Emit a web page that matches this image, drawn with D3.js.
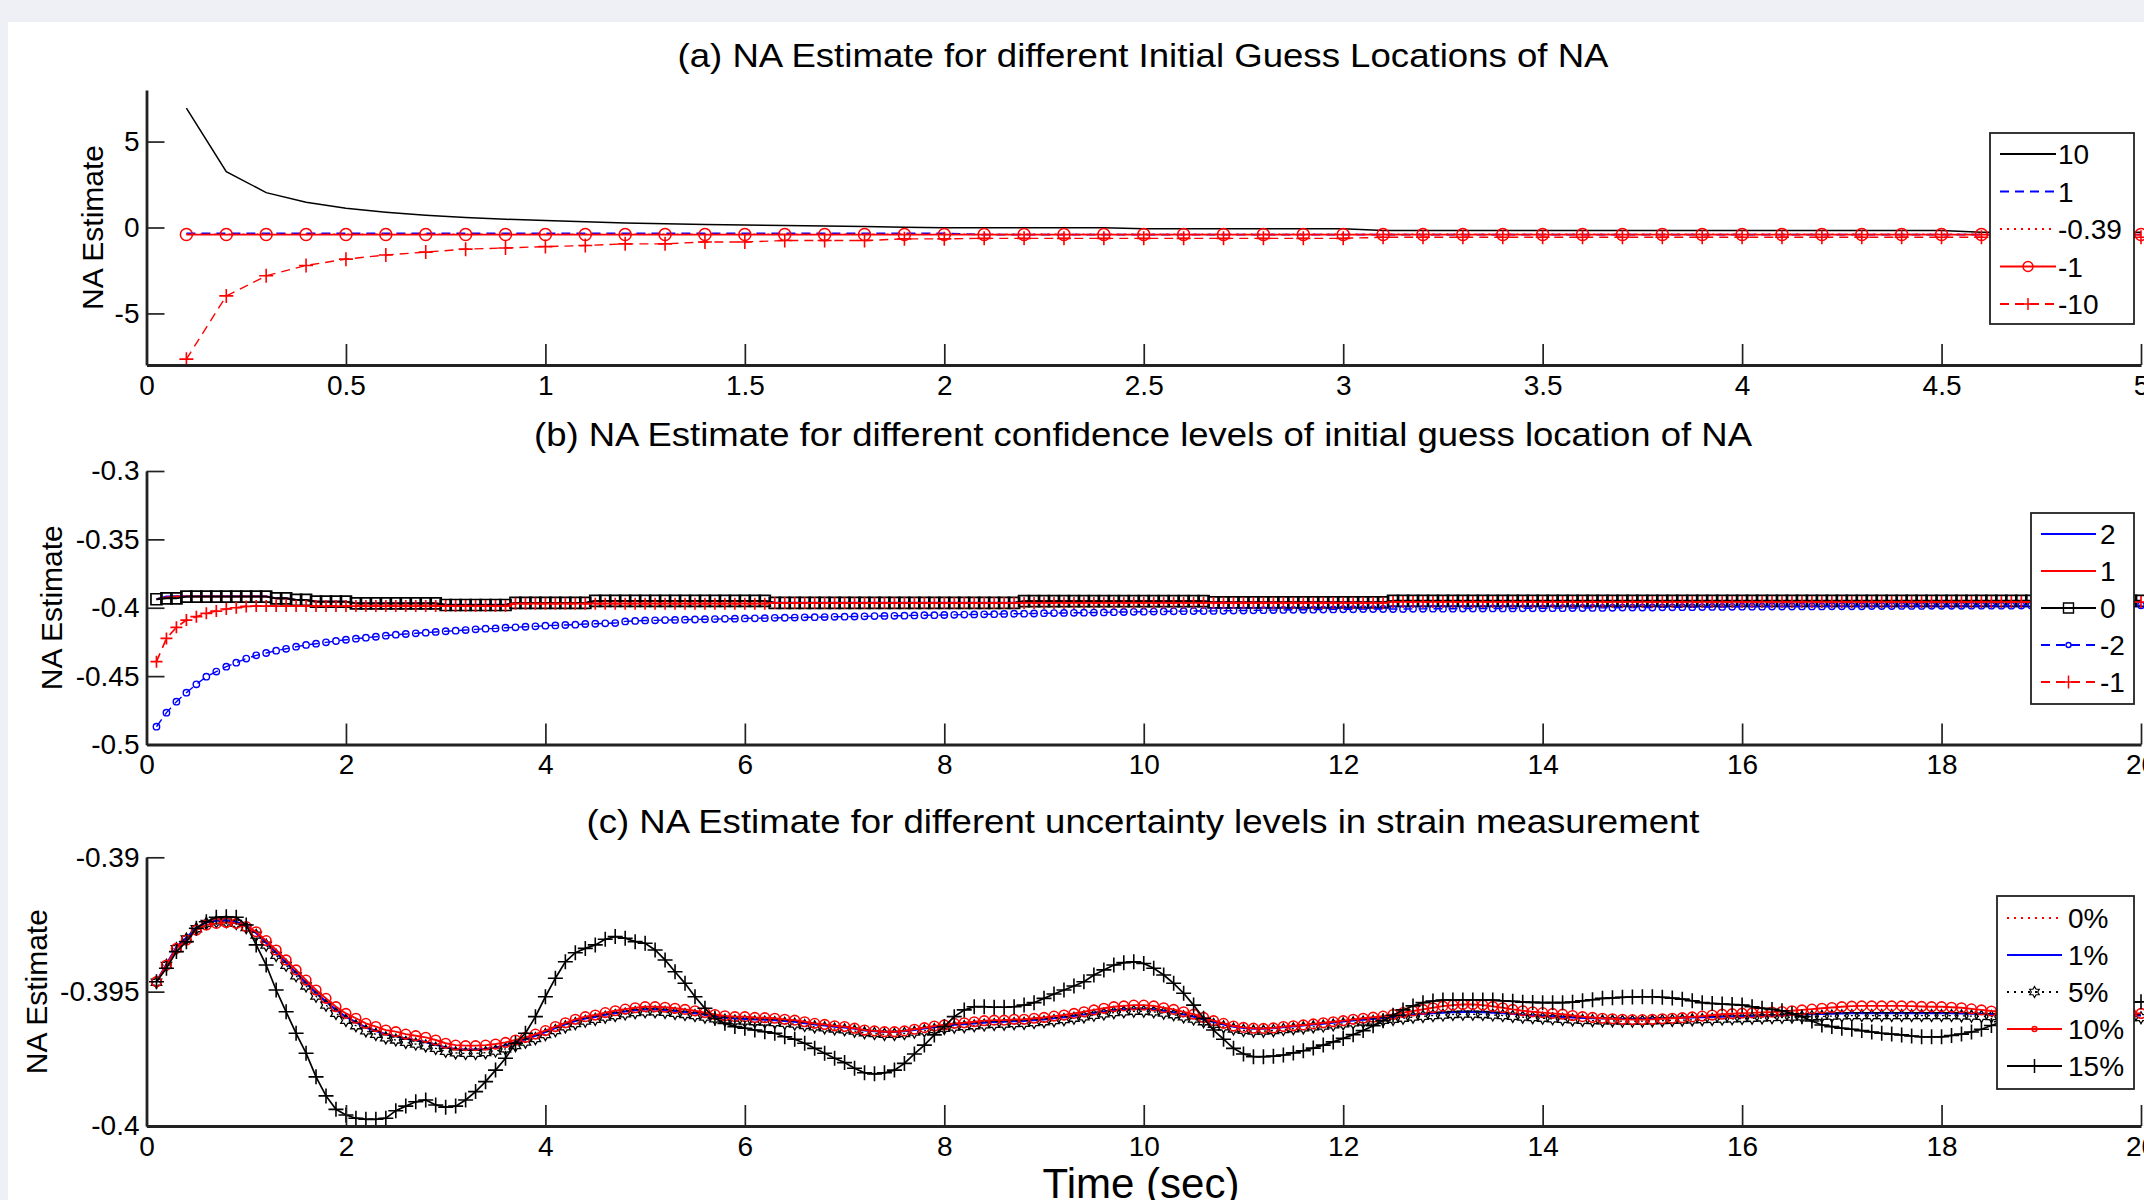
<!DOCTYPE html>
<html>
<head>
<meta charset="utf-8">
<script src="https://cdn.jsdelivr.net/npm/d3@7"></script>
<style>
  html, body { margin: 0; padding: 0; background: #eef0f5; }
  svg { display: block; }
  text { font-family: "Liberation Sans", Arial, Helvetica, sans-serif; fill: #000; }
</style>
</head>
<body>
<svg width="2144" height="1200"></svg>
<script>
/* NA estimate figure: three stacked panels, samples every 0.1 s starting at 0.1 */
var timeStep = 0.1;

// (a) initial guess locations, t = 0.1 .. 5.0
var guessLabels = ["10", "1", "-0.39", "-1", "-10"];
var guessTen = [6.94, 3.25, 2.03, 1.47, 1.12, 0.89, 0.71, 0.58, 0.48, 0.41,
    0.33, 0.26, 0.22, 0.18, 0.15, 0.12, 0.09, 0.06, 0.02, -0.01,
    -0.02, -0.02, -0.02, -0.02, -0.07, -0.07, -0.07, -0.07, -0.07, -0.07,
    -0.18, -0.18, -0.18, -0.18, -0.18, -0.18, -0.18, -0.18, -0.18, -0.18,
    -0.18, -0.18, -0.18, -0.18, -0.18, -0.28, -0.28, -0.28, -0.28, -0.28];
var guessOne = [-0.34, -0.34, -0.34, -0.34, -0.34, -0.34, -0.34, -0.34, -0.34, -0.34,
    -0.34, -0.34, -0.34, -0.34, -0.34, -0.34, -0.34, -0.34, -0.34, -0.34,
    -0.42, -0.42, -0.42, -0.42, -0.42, -0.42, -0.42, -0.42, -0.42, -0.42,
    -0.42, -0.42, -0.42, -0.42, -0.42, -0.42, -0.42, -0.42, -0.42, -0.42,
    -0.42, -0.42, -0.42, -0.42, -0.42, -0.42, -0.42, -0.42, -0.42, -0.42];
var guessMid = [-0.39, -0.39, -0.39, -0.39, -0.39, -0.39, -0.39, -0.39, -0.39, -0.39,
    -0.39, -0.39, -0.39, -0.39, -0.39, -0.39, -0.39, -0.39, -0.39, -0.39,
    -0.39, -0.39, -0.39, -0.39, -0.39, -0.39, -0.39, -0.39, -0.39, -0.39,
    -0.39, -0.39, -0.39, -0.39, -0.39, -0.39, -0.39, -0.39, -0.39, -0.39,
    -0.39, -0.39, -0.39, -0.39, -0.39, -0.39, -0.39, -0.39, -0.39, -0.39];
var guessMinusOne = [-0.41, -0.41, -0.41, -0.41, -0.41, -0.41, -0.41, -0.41, -0.41, -0.41,
    -0.41, -0.41, -0.41, -0.41, -0.41, -0.41, -0.41, -0.41, -0.41, -0.41,
    -0.41, -0.41, -0.41, -0.41, -0.41, -0.41, -0.41, -0.41, -0.41, -0.41,
    -0.41, -0.41, -0.41, -0.41, -0.41, -0.41, -0.41, -0.41, -0.41, -0.41,
    -0.41, -0.41, -0.41, -0.41, -0.41, -0.41, -0.41, -0.41, -0.41, -0.41];
var guessMinusTen = [-7.66, -3.98, -2.81, -2.21, -1.84, -1.60, -1.43, -1.26, -1.19, -1.11,
    -1.05, -0.95, -0.95, -0.84, -0.84, -0.76, -0.76, -0.76, -0.66, -0.66,
    -0.63, -0.63, -0.63, -0.63, -0.63, -0.63, -0.63, -0.63, -0.63, -0.63,
    -0.57, -0.57, -0.57, -0.57, -0.57, -0.57, -0.57, -0.57, -0.57, -0.57,
    -0.57, -0.57, -0.57, -0.57, -0.57, -0.57, -0.57, -0.57, -0.57, -0.57];
var guessXTicks = [0, 0.5, 1, 1.5, 2, 2.5, 3, 3.5, 4, 4.5, 5];
var guessXTickLabels = ["0", "0.5", "1", "1.5", "2", "2.5", "3", "3.5", "4", "4.5", "5"];
var guessYTicks = [-5, 0, 5];
var guessYTickLabels = ["-5", "0", "5"];

// (b) confidence levels, t = 0.1 .. 20.0
var confLabels = ["2", "1", "0", "-2", "-1"];
var confTwo = [-0.3938, -0.3918, -0.3916, -0.3916, -0.3916, -0.3916, -0.3916, -0.3916, -0.3916, -0.3916,
    -0.3916, -0.3916, -0.3931, -0.3931, -0.3943, -0.3943, -0.3955, -0.3955, -0.3955, -0.3955,
    -0.3966, -0.3966, -0.3966, -0.3966, -0.3966, -0.3966, -0.3966, -0.3966, -0.3966, -0.3978,
    -0.3978, -0.3978, -0.3978, -0.3978, -0.3978, -0.3978, -0.3964, -0.3964, -0.3964, -0.3964,
    -0.3964, -0.3964, -0.3964, -0.3964, -0.3951, -0.3951, -0.3951, -0.3951, -0.3951, -0.3951,
    -0.3951, -0.3951, -0.3951, -0.3951, -0.3951, -0.3951, -0.3951, -0.3951, -0.3951, -0.3951,
    -0.3951, -0.3951, -0.3963, -0.3963, -0.3963, -0.3963, -0.3963, -0.3963, -0.3963, -0.3963,
    -0.3963, -0.3963, -0.3963, -0.3963, -0.3963, -0.3963, -0.3963, -0.3963, -0.3963, -0.3963,
    -0.3963, -0.3963, -0.3963, -0.3963, -0.3963, -0.3963, -0.3963, -0.3953, -0.3953, -0.3953,
    -0.3953, -0.3953, -0.3953, -0.3953, -0.3953, -0.3953, -0.3953, -0.3953, -0.3953, -0.3953,
    -0.3953, -0.3953, -0.3953, -0.3953, -0.3953, -0.3953, -0.3960, -0.3960, -0.3960, -0.3960,
    -0.3960, -0.3960, -0.3960, -0.3960, -0.3960, -0.3960, -0.3960, -0.3960, -0.3960, -0.3960,
    -0.3960, -0.3960, -0.3960, -0.3960, -0.3950, -0.3950, -0.3950, -0.3950, -0.3950, -0.3950,
    -0.3950, -0.3950, -0.3950, -0.3950, -0.3950, -0.3950, -0.3950, -0.3950, -0.3950, -0.3950,
    -0.3950, -0.3950, -0.3950, -0.3950, -0.3950, -0.3950, -0.3950, -0.3950, -0.3950, -0.3950,
    -0.3950, -0.3950, -0.3950, -0.3950, -0.3950, -0.3950, -0.3950, -0.3950, -0.3950, -0.3950,
    -0.3950, -0.3950, -0.3950, -0.3950, -0.3950, -0.3950, -0.3950, -0.3950, -0.3950, -0.3950,
    -0.3950, -0.3950, -0.3950, -0.3950, -0.3950, -0.3950, -0.3950, -0.3950, -0.3950, -0.3950,
    -0.3950, -0.3950, -0.3950, -0.3950, -0.3950, -0.3950, -0.3950, -0.3950, -0.3950, -0.3950,
    -0.3950, -0.3950, -0.3950, -0.3950, -0.3950, -0.3950, -0.3950, -0.3950, -0.3950, -0.3950];
var confOne = [-0.3938, -0.3925, -0.3918, -0.3918, -0.3918, -0.3918, -0.3918, -0.3918, -0.3918, -0.3918,
    -0.3918, -0.3918, -0.3932, -0.3932, -0.3944, -0.3944, -0.3956, -0.3956, -0.3956, -0.3956,
    -0.3969, -0.3969, -0.3969, -0.3969, -0.3969, -0.3969, -0.3969, -0.3969, -0.3969, -0.3981,
    -0.3981, -0.3981, -0.3981, -0.3981, -0.3981, -0.3981, -0.3966, -0.3966, -0.3966, -0.3966,
    -0.3966, -0.3966, -0.3966, -0.3966, -0.3952, -0.3952, -0.3952, -0.3952, -0.3952, -0.3952,
    -0.3952, -0.3952, -0.3952, -0.3952, -0.3952, -0.3952, -0.3952, -0.3952, -0.3952, -0.3952,
    -0.3952, -0.3952, -0.3966, -0.3966, -0.3966, -0.3966, -0.3966, -0.3966, -0.3966, -0.3966,
    -0.3966, -0.3966, -0.3966, -0.3966, -0.3966, -0.3966, -0.3966, -0.3966, -0.3966, -0.3966,
    -0.3966, -0.3966, -0.3966, -0.3966, -0.3966, -0.3966, -0.3966, -0.3954, -0.3954, -0.3954,
    -0.3954, -0.3954, -0.3954, -0.3954, -0.3954, -0.3954, -0.3954, -0.3954, -0.3954, -0.3954,
    -0.3954, -0.3954, -0.3954, -0.3954, -0.3954, -0.3954, -0.3962, -0.3962, -0.3962, -0.3962,
    -0.3962, -0.3962, -0.3962, -0.3962, -0.3962, -0.3962, -0.3962, -0.3962, -0.3962, -0.3962,
    -0.3962, -0.3962, -0.3962, -0.3962, -0.3951, -0.3951, -0.3951, -0.3951, -0.3951, -0.3951,
    -0.3951, -0.3951, -0.3951, -0.3951, -0.3951, -0.3951, -0.3951, -0.3951, -0.3951, -0.3951,
    -0.3951, -0.3951, -0.3951, -0.3951, -0.3951, -0.3951, -0.3951, -0.3951, -0.3951, -0.3951,
    -0.3951, -0.3951, -0.3951, -0.3951, -0.3951, -0.3951, -0.3951, -0.3951, -0.3951, -0.3951,
    -0.3951, -0.3951, -0.3951, -0.3951, -0.3951, -0.3951, -0.3951, -0.3951, -0.3951, -0.3951,
    -0.3951, -0.3951, -0.3951, -0.3951, -0.3951, -0.3951, -0.3951, -0.3951, -0.3951, -0.3951,
    -0.3951, -0.3951, -0.3951, -0.3951, -0.3951, -0.3951, -0.3951, -0.3951, -0.3951, -0.3951,
    -0.3951, -0.3951, -0.3951, -0.3951, -0.3951, -0.3951, -0.3951, -0.3951, -0.3951, -0.3951];
var confZero = [-0.3938, -0.3931, -0.3931, -0.3919, -0.3919, -0.3919, -0.3919, -0.3919, -0.3919, -0.3919,
    -0.3919, -0.3919, -0.3931, -0.3931, -0.3943, -0.3943, -0.3955, -0.3955, -0.3955, -0.3955,
    -0.3968, -0.3968, -0.3968, -0.3968, -0.3968, -0.3968, -0.3968, -0.3968, -0.3968, -0.3980,
    -0.3980, -0.3980, -0.3980, -0.3980, -0.3980, -0.3980, -0.3965, -0.3965, -0.3965, -0.3965,
    -0.3965, -0.3965, -0.3965, -0.3965, -0.3950, -0.3950, -0.3950, -0.3950, -0.3950, -0.3950,
    -0.3950, -0.3950, -0.3950, -0.3950, -0.3950, -0.3950, -0.3950, -0.3950, -0.3950, -0.3950,
    -0.3950, -0.3950, -0.3965, -0.3965, -0.3965, -0.3965, -0.3965, -0.3965, -0.3965, -0.3965,
    -0.3965, -0.3965, -0.3965, -0.3965, -0.3965, -0.3965, -0.3965, -0.3965, -0.3965, -0.3965,
    -0.3965, -0.3965, -0.3965, -0.3965, -0.3965, -0.3965, -0.3965, -0.3952, -0.3952, -0.3952,
    -0.3952, -0.3952, -0.3952, -0.3952, -0.3952, -0.3952, -0.3952, -0.3952, -0.3952, -0.3952,
    -0.3952, -0.3952, -0.3952, -0.3952, -0.3952, -0.3952, -0.3961, -0.3961, -0.3961, -0.3961,
    -0.3961, -0.3961, -0.3961, -0.3961, -0.3961, -0.3961, -0.3961, -0.3961, -0.3961, -0.3961,
    -0.3961, -0.3961, -0.3961, -0.3961, -0.3949, -0.3949, -0.3949, -0.3949, -0.3949, -0.3949,
    -0.3949, -0.3949, -0.3949, -0.3949, -0.3949, -0.3949, -0.3949, -0.3949, -0.3949, -0.3949,
    -0.3949, -0.3949, -0.3949, -0.3949, -0.3949, -0.3949, -0.3949, -0.3949, -0.3949, -0.3949,
    -0.3949, -0.3949, -0.3949, -0.3949, -0.3949, -0.3949, -0.3949, -0.3949, -0.3949, -0.3949,
    -0.3949, -0.3949, -0.3949, -0.3949, -0.3949, -0.3949, -0.3949, -0.3949, -0.3949, -0.3949,
    -0.3949, -0.3949, -0.3949, -0.3949, -0.3949, -0.3949, -0.3949, -0.3949, -0.3949, -0.3949,
    -0.3949, -0.3949, -0.3949, -0.3949, -0.3949, -0.3949, -0.3949, -0.3949, -0.3949, -0.3949,
    -0.3949, -0.3949, -0.3949, -0.3949, -0.3949, -0.3949, -0.3949, -0.3949, -0.3949, -0.3949];
var confMinusTwo = [-0.4870, -0.4767, -0.4687, -0.4621, -0.4560, -0.4504, -0.4467, -0.4431, -0.4402, -0.4372,
    -0.4348, -0.4331, -0.4314, -0.4300, -0.4285, -0.4272, -0.4263, -0.4253, -0.4243, -0.4234,
    -0.4226, -0.4219, -0.4212, -0.4204, -0.4197, -0.4192, -0.4187, -0.4182, -0.4177, -0.4172,
    -0.4168, -0.4163, -0.4158, -0.4153, -0.4151, -0.4146, -0.4143, -0.4139, -0.4136, -0.4131,
    -0.4129, -0.4126, -0.4124, -0.4119, -0.4117, -0.4114, -0.4112, -0.4100, -0.4096, -0.4093,
    -0.4092, -0.4090, -0.4089, -0.4087, -0.4086, -0.4084, -0.4083, -0.4081, -0.4080, -0.4078,
    -0.4077, -0.4076, -0.4074, -0.4073, -0.4072, -0.4070, -0.4069, -0.4068, -0.4066, -0.4065,
    -0.4064, -0.4063, -0.4061, -0.4060, -0.4059, -0.4058, -0.4056, -0.4055, -0.4054, -0.4053,
    -0.4052, -0.4050, -0.4049, -0.4048, -0.4047, -0.4045, -0.4044, -0.4043, -0.4042, -0.4040,
    -0.4039, -0.4038, -0.4037, -0.4036, -0.4035, -0.4034, -0.4032, -0.4031, -0.4030, -0.4029,
    -0.4028, -0.4027, -0.4026, -0.4025, -0.4024, -0.4024, -0.4023, -0.4022, -0.4021, -0.4020,
    -0.4019, -0.4018, -0.4017, -0.4016, -0.4015, -0.4015, -0.4014, -0.4013, -0.4012, -0.4011,
    -0.4011, -0.4010, -0.4010, -0.4009, -0.4009, -0.4009, -0.4008, -0.4008, -0.4007, -0.4007,
    -0.4007, -0.4006, -0.4006, -0.4006, -0.4005, -0.4005, -0.4005, -0.4004, -0.4004, -0.4004,
    -0.4003, -0.4003, -0.4002, -0.4002, -0.4001, -0.4001, -0.4000, -0.3999, -0.3999, -0.3998,
    -0.3998, -0.3997, -0.3997, -0.3996, -0.3996, -0.3995, -0.3994, -0.3994, -0.3993, -0.3992,
    -0.3992, -0.3992, -0.3991, -0.3991, -0.3991, -0.3990, -0.3990, -0.3990, -0.3989, -0.3989,
    -0.3989, -0.3989, -0.3988, -0.3988, -0.3988, -0.3987, -0.3987, -0.3987, -0.3986, -0.3986,
    -0.3986, -0.3986, -0.3985, -0.3985, -0.3985, -0.3985, -0.3985, -0.3984, -0.3984, -0.3984,
    -0.3984, -0.3983, -0.3983, -0.3983, -0.3983, -0.3983, -0.3982, -0.3982, -0.3982, -0.3982];
var confMinusOne = [-0.4394, -0.4224, -0.4143, -0.4090, -0.4065, -0.4041, -0.4024, -0.4009, -0.4000, -0.3990,
    -0.3988, -0.3988, -0.3988, -0.3988, -0.3988, -0.3988, -0.3988, -0.3988, -0.3988, -0.3988,
    -0.3988, -0.3988, -0.3988, -0.3988, -0.3988, -0.3988, -0.3988, -0.3988, -0.3988, -0.3988,
    -0.3988, -0.3988, -0.3988, -0.3988, -0.3988, -0.3988, -0.3970, -0.3970, -0.3970, -0.3970,
    -0.3970, -0.3970, -0.3970, -0.3970, -0.3970, -0.3970, -0.3970, -0.3970, -0.3970, -0.3970,
    -0.3970, -0.3970, -0.3970, -0.3970, -0.3970, -0.3970, -0.3970, -0.3970, -0.3970, -0.3970,
    -0.3970, -0.3970, -0.3965, -0.3965, -0.3965, -0.3965, -0.3965, -0.3965, -0.3965, -0.3965,
    -0.3965, -0.3965, -0.3965, -0.3965, -0.3965, -0.3965, -0.3965, -0.3965, -0.3965, -0.3965,
    -0.3965, -0.3965, -0.3965, -0.3965, -0.3965, -0.3965, -0.3965, -0.3965, -0.3965, -0.3965,
    -0.3965, -0.3965, -0.3965, -0.3965, -0.3965, -0.3965, -0.3965, -0.3965, -0.3965, -0.3965,
    -0.3965, -0.3965, -0.3965, -0.3965, -0.3965, -0.3965, -0.3965, -0.3965, -0.3965, -0.3965,
    -0.3965, -0.3965, -0.3965, -0.3965, -0.3965, -0.3965, -0.3965, -0.3965, -0.3965, -0.3965,
    -0.3965, -0.3965, -0.3965, -0.3965, -0.3958, -0.3958, -0.3958, -0.3958, -0.3958, -0.3958,
    -0.3958, -0.3958, -0.3958, -0.3958, -0.3958, -0.3958, -0.3958, -0.3958, -0.3958, -0.3958,
    -0.3958, -0.3958, -0.3958, -0.3958, -0.3958, -0.3958, -0.3958, -0.3958, -0.3958, -0.3958,
    -0.3958, -0.3958, -0.3958, -0.3958, -0.3958, -0.3958, -0.3958, -0.3958, -0.3958, -0.3958,
    -0.3958, -0.3958, -0.3958, -0.3958, -0.3958, -0.3958, -0.3958, -0.3958, -0.3958, -0.3958,
    -0.3958, -0.3958, -0.3958, -0.3958, -0.3958, -0.3958, -0.3958, -0.3958, -0.3958, -0.3958,
    -0.3958, -0.3958, -0.3958, -0.3958, -0.3958, -0.3958, -0.3958, -0.3958, -0.3958, -0.3958,
    -0.3958, -0.3958, -0.3958, -0.3958, -0.3958, -0.3958, -0.3958, -0.3958, -0.3958, -0.3958];
var longXTicks = [0, 2, 4, 6, 8, 10, 12, 14, 16, 18, 20];
var longXTickLabels = ["0", "2", "4", "6", "8", "10", "12", "14", "16", "18", "20"];
var confYTicks = [-0.5, -0.45, -0.4, -0.35, -0.3];
var confYTickLabels = ["-0.5", "-0.45", "-0.4", "-0.35", "-0.3"];

// (c) uncertainty in strain measurement, t = 0.1 .. 20.0
var noiseLabels = ["0%", "1%", "5%", "10%", "15%"];
var noise0 = [-0.39463, -0.39398, -0.39335, -0.39300, -0.39262, -0.39242, -0.39236, -0.39235, -0.39240, -0.39255,
    -0.39282, -0.39318, -0.39355, -0.39392, -0.39430, -0.39468, -0.39505, -0.39537, -0.39568, -0.39594,
    -0.39614, -0.39633, -0.39646, -0.39659, -0.39666, -0.39675, -0.39681, -0.39688, -0.39697, -0.39708,
    -0.39714, -0.39716, -0.39716, -0.39713, -0.39708, -0.39700, -0.39689, -0.39677, -0.39664, -0.39650,
    -0.39635, -0.39621, -0.39609, -0.39600, -0.39594, -0.39586, -0.39580, -0.39574, -0.39569, -0.39566,
    -0.39566, -0.39568, -0.39572, -0.39576, -0.39580, -0.39586, -0.39592, -0.39597, -0.39600, -0.39601,
    -0.39603, -0.39604, -0.39606, -0.39609, -0.39612, -0.39617, -0.39622, -0.39626, -0.39630, -0.39633,
    -0.39638, -0.39644, -0.39647, -0.39650, -0.39650, -0.39647, -0.39642, -0.39637, -0.39632, -0.39628,
    -0.39623, -0.39621, -0.39618, -0.39615, -0.39613, -0.39612, -0.39610, -0.39609, -0.39606, -0.39603,
    -0.39599, -0.39595, -0.39590, -0.39585, -0.39579, -0.39574, -0.39569, -0.39566, -0.39564, -0.39564,
    -0.39566, -0.39571, -0.39577, -0.39585, -0.39593, -0.39603, -0.39613, -0.39622, -0.39630, -0.39635,
    -0.39638, -0.39638, -0.39636, -0.39632, -0.39629, -0.39626, -0.39622, -0.39619, -0.39615, -0.39611,
    -0.39607, -0.39604, -0.39601, -0.39598, -0.39594, -0.39590, -0.39586, -0.39583, -0.39580, -0.39578,
    -0.39576, -0.39575, -0.39575, -0.39576, -0.39578, -0.39580, -0.39583, -0.39586, -0.39588, -0.39590,
    -0.39592, -0.39594, -0.39596, -0.39598, -0.39599, -0.39600, -0.39600, -0.39601, -0.39601, -0.39601,
    -0.39600, -0.39599, -0.39598, -0.39597, -0.39596, -0.39595, -0.39594, -0.39593, -0.39592, -0.39591,
    -0.39590, -0.39589, -0.39588, -0.39587, -0.39586, -0.39585, -0.39584, -0.39583, -0.39582, -0.39581,
    -0.39580, -0.39580, -0.39580, -0.39580, -0.39580, -0.39580, -0.39580, -0.39580, -0.39580, -0.39580,
    -0.39580, -0.39581, -0.39582, -0.39583, -0.39584, -0.39585, -0.39586, -0.39587, -0.39588, -0.39588,
    -0.39588, -0.39588, -0.39588, -0.39588, -0.39588, -0.39588, -0.39588, -0.39588, -0.39588, -0.39588];
var noise1 = [-0.39463, -0.39398, -0.39335, -0.39300, -0.39262, -0.39242, -0.39236, -0.39235, -0.39240, -0.39255,
    -0.39282, -0.39318, -0.39355, -0.39392, -0.39430, -0.39468, -0.39505, -0.39537, -0.39568, -0.39594,
    -0.39614, -0.39633, -0.39646, -0.39659, -0.39666, -0.39675, -0.39681, -0.39688, -0.39697, -0.39708,
    -0.39714, -0.39716, -0.39716, -0.39713, -0.39708, -0.39700, -0.39689, -0.39677, -0.39664, -0.39650,
    -0.39635, -0.39621, -0.39609, -0.39600, -0.39594, -0.39586, -0.39580, -0.39574, -0.39569, -0.39566,
    -0.39566, -0.39568, -0.39572, -0.39576, -0.39580, -0.39586, -0.39592, -0.39597, -0.39600, -0.39601,
    -0.39603, -0.39604, -0.39606, -0.39609, -0.39612, -0.39617, -0.39622, -0.39626, -0.39630, -0.39633,
    -0.39638, -0.39644, -0.39647, -0.39650, -0.39650, -0.39647, -0.39642, -0.39637, -0.39632, -0.39628,
    -0.39623, -0.39621, -0.39618, -0.39615, -0.39613, -0.39612, -0.39610, -0.39609, -0.39606, -0.39603,
    -0.39599, -0.39595, -0.39590, -0.39585, -0.39579, -0.39574, -0.39569, -0.39566, -0.39564, -0.39564,
    -0.39566, -0.39571, -0.39577, -0.39585, -0.39593, -0.39603, -0.39613, -0.39622, -0.39630, -0.39635,
    -0.39638, -0.39638, -0.39636, -0.39632, -0.39629, -0.39626, -0.39622, -0.39619, -0.39615, -0.39611,
    -0.39607, -0.39604, -0.39601, -0.39598, -0.39594, -0.39590, -0.39586, -0.39583, -0.39580, -0.39578,
    -0.39576, -0.39575, -0.39575, -0.39576, -0.39578, -0.39580, -0.39583, -0.39586, -0.39588, -0.39590,
    -0.39592, -0.39594, -0.39596, -0.39598, -0.39599, -0.39600, -0.39600, -0.39601, -0.39601, -0.39601,
    -0.39600, -0.39599, -0.39598, -0.39597, -0.39596, -0.39595, -0.39594, -0.39593, -0.39592, -0.39591,
    -0.39590, -0.39589, -0.39588, -0.39587, -0.39586, -0.39585, -0.39584, -0.39583, -0.39582, -0.39581,
    -0.39580, -0.39580, -0.39580, -0.39580, -0.39580, -0.39580, -0.39580, -0.39580, -0.39580, -0.39580,
    -0.39580, -0.39581, -0.39582, -0.39583, -0.39584, -0.39585, -0.39586, -0.39587, -0.39588, -0.39588,
    -0.39588, -0.39588, -0.39588, -0.39588, -0.39588, -0.39588, -0.39588, -0.39588, -0.39588, -0.39588];
var noise5 = [-0.39465, -0.39402, -0.39340, -0.39304, -0.39266, -0.39246, -0.39240, -0.39240, -0.39246, -0.39262,
    -0.39290, -0.39327, -0.39365, -0.39402, -0.39441, -0.39479, -0.39517, -0.39550, -0.39581, -0.39607,
    -0.39627, -0.39646, -0.39659, -0.39672, -0.39680, -0.39689, -0.39695, -0.39702, -0.39711, -0.39722,
    -0.39728, -0.39730, -0.39730, -0.39727, -0.39721, -0.39713, -0.39701, -0.39688, -0.39675, -0.39660,
    -0.39645, -0.39631, -0.39619, -0.39610, -0.39603, -0.39595, -0.39589, -0.39583, -0.39578, -0.39575,
    -0.39575, -0.39577, -0.39581, -0.39585, -0.39589, -0.39595, -0.39601, -0.39606, -0.39609, -0.39610,
    -0.39612, -0.39613, -0.39615, -0.39618, -0.39621, -0.39626, -0.39631, -0.39635, -0.39639, -0.39642,
    -0.39647, -0.39653, -0.39656, -0.39659, -0.39659, -0.39656, -0.39651, -0.39646, -0.39641, -0.39637,
    -0.39632, -0.39630, -0.39627, -0.39624, -0.39622, -0.39621, -0.39619, -0.39618, -0.39615, -0.39612,
    -0.39608, -0.39604, -0.39599, -0.39594, -0.39588, -0.39583, -0.39578, -0.39575, -0.39573, -0.39573,
    -0.39575, -0.39580, -0.39586, -0.39594, -0.39602, -0.39612, -0.39622, -0.39631, -0.39639, -0.39644,
    -0.39647, -0.39647, -0.39645, -0.39641, -0.39638, -0.39635, -0.39631, -0.39628, -0.39624, -0.39620,
    -0.39616, -0.39613, -0.39610, -0.39607, -0.39603, -0.39599, -0.39595, -0.39592, -0.39589, -0.39587,
    -0.39585, -0.39584, -0.39584, -0.39585, -0.39587, -0.39589, -0.39592, -0.39595, -0.39597, -0.39599,
    -0.39601, -0.39603, -0.39605, -0.39607, -0.39608, -0.39609, -0.39609, -0.39610, -0.39610, -0.39610,
    -0.39609, -0.39608, -0.39607, -0.39606, -0.39605, -0.39604, -0.39603, -0.39602, -0.39601, -0.39600,
    -0.39599, -0.39598, -0.39597, -0.39596, -0.39595, -0.39594, -0.39593, -0.39592, -0.39591, -0.39590,
    -0.39589, -0.39589, -0.39589, -0.39589, -0.39589, -0.39589, -0.39589, -0.39589, -0.39589, -0.39589,
    -0.39589, -0.39590, -0.39591, -0.39592, -0.39593, -0.39594, -0.39595, -0.39596, -0.39597, -0.39597,
    -0.39597, -0.39597, -0.39597, -0.39597, -0.39597, -0.39597, -0.39597, -0.39597, -0.39597, -0.39597];
var noise10 = [-0.39463, -0.39401, -0.39339, -0.39308, -0.39271, -0.39252, -0.39246, -0.39243, -0.39246, -0.39258,
    -0.39277, -0.39310, -0.39345, -0.39382, -0.39419, -0.39457, -0.39494, -0.39525, -0.39556, -0.39581,
    -0.39599, -0.39618, -0.39630, -0.39643, -0.39649, -0.39658, -0.39664, -0.39670, -0.39680, -0.39692,
    -0.39699, -0.39701, -0.39701, -0.39699, -0.39695, -0.39689, -0.39680, -0.39670, -0.39658, -0.39645,
    -0.39630, -0.39616, -0.39603, -0.39593, -0.39587, -0.39578, -0.39571, -0.39565, -0.39560, -0.39556,
    -0.39556, -0.39558, -0.39562, -0.39566, -0.39571, -0.39578, -0.39585, -0.39590, -0.39593, -0.39593,
    -0.39596, -0.39597, -0.39599, -0.39603, -0.39606, -0.39612, -0.39618, -0.39622, -0.39627, -0.39630,
    -0.39636, -0.39643, -0.39646, -0.39649, -0.39649, -0.39646, -0.39640, -0.39634, -0.39628, -0.39624,
    -0.39618, -0.39616, -0.39612, -0.39608, -0.39606, -0.39606, -0.39603, -0.39603, -0.39599, -0.39596,
    -0.39591, -0.39587, -0.39581, -0.39575, -0.39568, -0.39562, -0.39556, -0.39553, -0.39550, -0.39550,
    -0.39553, -0.39560, -0.39566, -0.39575, -0.39584, -0.39596, -0.39608, -0.39618, -0.39628, -0.39633,
    -0.39636, -0.39637, -0.39635, -0.39630, -0.39627, -0.39624, -0.39620, -0.39616, -0.39612, -0.39608,
    -0.39603, -0.39599, -0.39595, -0.39591, -0.39585, -0.39578, -0.39572, -0.39566, -0.39560, -0.39554,
    -0.39550, -0.39548, -0.39548, -0.39550, -0.39555, -0.39560, -0.39566, -0.39571, -0.39575, -0.39578,
    -0.39581, -0.39584, -0.39589, -0.39593, -0.39596, -0.39599, -0.39601, -0.39603, -0.39604, -0.39604,
    -0.39603, -0.39601, -0.39599, -0.39597, -0.39594, -0.39591, -0.39587, -0.39584, -0.39582, -0.39580,
    -0.39579, -0.39577, -0.39576, -0.39574, -0.39571, -0.39568, -0.39565, -0.39562, -0.39559, -0.39556,
    -0.39554, -0.39553, -0.39553, -0.39553, -0.39553, -0.39553, -0.39554, -0.39555, -0.39556, -0.39556,
    -0.39558, -0.39560, -0.39564, -0.39568, -0.39572, -0.39575, -0.39578, -0.39580, -0.39581, -0.39582,
    -0.39582, -0.39582, -0.39581, -0.39581, -0.39580, -0.39580, -0.39580, -0.39581, -0.39581, -0.39581];
var noise15 = [-0.39463, -0.39413, -0.39351, -0.39314, -0.39264, -0.39240, -0.39223, -0.39221, -0.39223, -0.39252,
    -0.39326, -0.39401, -0.39494, -0.39575, -0.39655, -0.39729, -0.39817, -0.39888, -0.39938, -0.39959,
    -0.39971, -0.39975, -0.39975, -0.39971, -0.39943, -0.39926, -0.39910, -0.39903, -0.39922, -0.39930,
    -0.39926, -0.39903, -0.39872, -0.39835, -0.39792, -0.39748, -0.39692, -0.39655, -0.39593, -0.39519,
    -0.39450, -0.39389, -0.39355, -0.39339, -0.39326, -0.39305, -0.39295, -0.39301, -0.39314, -0.39320,
    -0.39345, -0.39382, -0.39426, -0.39469, -0.39519, -0.39562, -0.39599, -0.39618, -0.39630, -0.39636,
    -0.39643, -0.39649, -0.39655, -0.39668, -0.39677, -0.39692, -0.39711, -0.39729, -0.39748, -0.39764,
    -0.39785, -0.39802, -0.39806, -0.39802, -0.39792, -0.39767, -0.39732, -0.39699, -0.39661, -0.39630,
    -0.39593, -0.39568, -0.39556, -0.39556, -0.39558, -0.39558, -0.39556, -0.39550, -0.39541, -0.39525,
    -0.39509, -0.39494, -0.39479, -0.39463, -0.39438, -0.39419, -0.39401, -0.39392, -0.39389, -0.39395,
    -0.39413, -0.39438, -0.39469, -0.39506, -0.39550, -0.39599, -0.39643, -0.39677, -0.39711, -0.39732,
    -0.39742, -0.39742, -0.39740, -0.39736, -0.39728, -0.39720, -0.39710, -0.39699, -0.39687, -0.39674,
    -0.39660, -0.39645, -0.39627, -0.39608, -0.39588, -0.39568, -0.39553, -0.39541, -0.39535, -0.39531,
    -0.39531, -0.39531, -0.39531, -0.39531, -0.39531, -0.39534, -0.39536, -0.39539, -0.39540, -0.39541,
    -0.39541, -0.39541, -0.39539, -0.39534, -0.39530, -0.39525, -0.39523, -0.39521, -0.39520, -0.39519,
    -0.39519, -0.39521, -0.39524, -0.39528, -0.39534, -0.39541, -0.39544, -0.39546, -0.39548, -0.39550,
    -0.39556, -0.39562, -0.39566, -0.39571, -0.39582, -0.39593, -0.39609, -0.39624, -0.39630, -0.39636,
    -0.39640, -0.39645, -0.39650, -0.39655, -0.39658, -0.39661, -0.39665, -0.39668, -0.39668, -0.39668,
    -0.39663, -0.39658, -0.39650, -0.39640, -0.39626, -0.39612, -0.39600, -0.39590, -0.39580, -0.39570,
    -0.39562, -0.39555, -0.39550, -0.39545, -0.39541, -0.39539, -0.39538, -0.39538, -0.39538, -0.39538];
var noiseYTicks = [-0.4, -0.395, -0.39];
var noiseYTickLabels = ["-0.4", "-0.395", "-0.39"];

var panelTitles = [
    "(a) NA Estimate for different Initial Guess Locations of NA",
    "(b) NA Estimate for different confidence levels of initial guess location of NA",
    "(c) NA Estimate for different uncertainty levels in strain measurement"
];
var yAxisTitle = "NA Estimate";
var xAxisTitle = "Time (sec)";

var RED = "#ff0000", BLUE = "#0000ff", BLACK = "#000000", AXIS = "#222222";
var xLeft = 146.5, xRight = 2141;

var panels = [
    {
        title: panelTitles[0], titleY: 67, titleLen: 931,
        top: 90, bottom: 365, xDomain: [0, 5], yDomain: [-8, 8],
        xTicks: guessXTicks, xTickLabels: guessXTickLabels,
        yTicks: guessYTicks, yTickLabels: guessYTickLabels, yTitleX: 92,
        labels: guessLabels,
        legend: { x: 1990, y: 133, w: 144, h: 191, first: 21, step: 37.5, x0: 2000, x1: 2056, tx: 2058 },
        series: [
            { values: guessTen, color: BLACK, width: 1.5 },
            { values: guessOne, color: BLUE, width: 1.8, dash: "9,6" },
            { values: guessMid, color: RED, width: 1.3, dash: "2,5" },
            { values: guessMinusOne, color: RED, width: 1.7, marker: { type: "circle", size: 6, width: 1.5 }, legendMarker: { type: "circle", size: 5, width: 1.4 } },
            { values: guessMinusTen, color: RED, width: 1.4, dash: "9,6", marker: { type: "plus", size: 7, width: 1.6 }, legendMarker: { type: "plus", size: 6, width: 1.5 } }
        ]
    },
    {
        title: panelTitles[1], titleY: 446, titleLen: 1218,
        top: 471, bottom: 744.5, xDomain: [0, 20], yDomain: [-0.5, -0.3],
        xTicks: longXTicks, xTickLabels: longXTickLabels,
        yTicks: confYTicks, yTickLabels: confYTickLabels, yTitleX: 51,
        labels: confLabels,
        legend: { x: 2031, y: 513, w: 103, h: 191, first: 21, step: 37, x0: 2041, x1: 2096, tx: 2100 },
        series: [
            { values: confTwo, color: BLUE, width: 1.9 },
            { values: confOne, color: RED, width: 1.9 },
            { values: confZero, color: BLACK, width: 1.9, marker: { type: "square", size: 5.5, width: 1.7 }, legendMarker: { type: "square", size: 5, width: 1.4 } },
            { values: confMinusTwo, color: BLUE, width: 1.4, dash: "9,6", marker: { type: "circle", size: 3.2, width: 1.4 }, legendMarker: { type: "circle", size: 2.5, width: 1.4 } },
            { values: confMinusOne, color: RED, width: 1.6, dash: "9,6", marker: { type: "plus", size: 6, width: 1.7 }, legendMarker: { type: "plus", size: 6.5, width: 1.5 } }
        ]
    },
    {
        title: panelTitles[2], titleY: 833, titleLen: 1113,
        top: 857.3, bottom: 1126, xDomain: [0, 20], yDomain: [-0.4, -0.39],
        xTicks: longXTicks, xTickLabels: longXTickLabels,
        yTicks: noiseYTicks, yTickLabels: noiseYTickLabels, yTitleX: 36,
        labels: noiseLabels,
        legend: { x: 1997, y: 896, w: 137, h: 193, first: 22, step: 37, x0: 2007, x1: 2062, tx: 2068 },
        series: [
            { values: noise0, color: RED, width: 1.3, dash: "2,5" },
            { values: noise1, color: BLUE, width: 2.2 },
            { values: noise5, color: BLACK, width: 1.3, dash: "2,5", marker: { type: "hexagram", size: 6, width: 1.3 }, legendMarker: { type: "hexagram", size: 5.5, width: 1.2 } },
            { values: noise10, color: RED, width: 1.9, marker: { type: "circle", size: 4.8, width: 1.6 }, legendMarker: { type: "circle", size: 2.5, width: 1.4 } },
            { values: noise15, color: BLACK, width: 1.7, marker: { type: "plus", size: 7.5, width: 1.6 }, legendMarker: { type: "plus", size: 7, width: 1.5 } }
        ]
    }
];

var svg = d3.select("svg");
svg.append("rect").attr("x", 8).attr("y", 22).attr("width", 2136).attr("height", 1178).attr("fill", "#ffffff");

function markerShape(type, cx, cy, s) {
    if (type === "plus") {
        return "M" + (cx - s) + "," + cy + "H" + (cx + s) + "M" + cx + "," + (cy - s) + "V" + (cy + s);
    }
    if (type === "square") {
        return "M" + (cx - s) + "," + (cy - s) + "h" + (2 * s) + "v" + (2 * s) + "h" + (-2 * s) + "Z";
    }
    // hexagram: 12 vertices alternating outer / inner radius
    var pts = d3.range(12).map(function (k) {
        var a = -Math.PI / 2 + k * Math.PI / 6;
        var r = k % 2 ? s / Math.sqrt(3) : s;
        return [cx + r * Math.cos(a), cy + r * Math.sin(a)];
    });
    return "M" + pts.join("L") + "Z";
}

function drawMarkers(g, pts, mk, color) {
    if (!mk) return;
    if (mk.type === "circle") {
        g.selectAll(null).data(pts).enter().append("circle")
            .attr("cx", function (d) { return d[0]; })
            .attr("cy", function (d) { return d[1]; })
            .attr("r", mk.size)
            .attr("fill", "none")
            .attr("stroke", color)
            .attr("stroke-width", mk.width);
    } else {
        g.selectAll(null).data(pts).enter().append("path")
            .attr("d", function (d) { return markerShape(mk.type, d[0], d[1], mk.size); })
            .attr("fill", "none")
            .attr("stroke", color)
            .attr("stroke-width", mk.width);
    }
}

function drawPanel(p) {
    var x = d3.scaleLinear().domain(p.xDomain).range([xLeft, xRight]);
    var y = d3.scaleLinear().domain(p.yDomain).range([p.bottom, p.top]);
    var g = svg.append("g");
    var line = d3.line();

    p.series.forEach(function (s) {
        var pts = s.values.map(function (v, i) { return [x((i + 1) * timeStep), y(v)]; });
        g.append("path")
            .attr("d", line(pts))
            .attr("fill", "none")
            .attr("stroke", s.color)
            .attr("stroke-width", s.width)
            .attr("stroke-dasharray", s.dash || null);
        drawMarkers(g, pts, s.marker, s.color);
    });

    var xAxis = g.append("g")
        .attr("transform", "translate(0," + p.bottom + ")")
        .call(d3.axisBottom(x).tickValues(p.xTicks)
            .tickFormat(function (d, i) { return p.xTickLabels[i]; })
            .tickSize(-21).tickSizeOuter(0).tickPadding(10));
    var yAxis = g.append("g")
        .attr("transform", "translate(" + xLeft + ",0)")
        .call(d3.axisLeft(y).tickValues(p.yTicks)
            .tickFormat(function (d, i) { return p.yTickLabels[i]; })
            .tickSize(-18).tickSizeOuter(0).tickPadding(7));
    [xAxis, yAxis].forEach(function (ax) {
        ax.attr("font-family", null).attr("font-size", 28);
        ax.select(".domain").attr("stroke", AXIS).attr("stroke-width", 2.8);
        ax.selectAll(".tick line").attr("stroke", AXIS).attr("stroke-width", 1.7);
        ax.selectAll(".tick text").attr("fill", "#000");
    });

    svg.append("text")
        .attr("x", 1143).attr("y", p.titleY)
        .attr("text-anchor", "middle")
        .attr("font-size", 34)
        .attr("textLength", p.titleLen)
        .attr("lengthAdjust", "spacingAndGlyphs")
        .text(p.title);

    svg.append("text")
        .attr("transform", "translate(" + p.yTitleX + "," + ((p.top + p.bottom) / 2) + ") rotate(-90)")
        .attr("text-anchor", "middle")
        .attr("dy", "0.36em")
        .attr("font-size", 30)
        .text(yAxisTitle);

    var L = p.legend;
    var lg = svg.append("g");
    lg.append("rect")
        .attr("x", L.x).attr("y", L.y).attr("width", L.w).attr("height", L.h)
        .attr("fill", "#ffffff").attr("stroke", AXIS).attr("stroke-width", 1.8);
    p.series.forEach(function (s, i) {
        var ry = L.y + L.first + i * L.step;
        lg.append("line")
            .attr("x1", L.x0).attr("x2", L.x1).attr("y1", ry).attr("y2", ry)
            .attr("stroke", s.color).attr("stroke-width", 1.8)
            .attr("stroke-dasharray", s.dash || null);
        drawMarkers(lg, [[(L.x0 + L.x1) / 2, ry]], s.legendMarker, s.color);
        lg.append("text")
            .attr("x", L.tx).attr("y", ry).attr("dy", "0.36em")
            .attr("font-size", 28)
            .text(p.labels[i]);
    });
}

panels.forEach(drawPanel);

svg.append("text")
    .attr("x", 1141).attr("y", 1198)
    .attr("text-anchor", "middle")
    .attr("font-size", 42)
    .text(xAxisTitle);
</script>
</body>
</html>
